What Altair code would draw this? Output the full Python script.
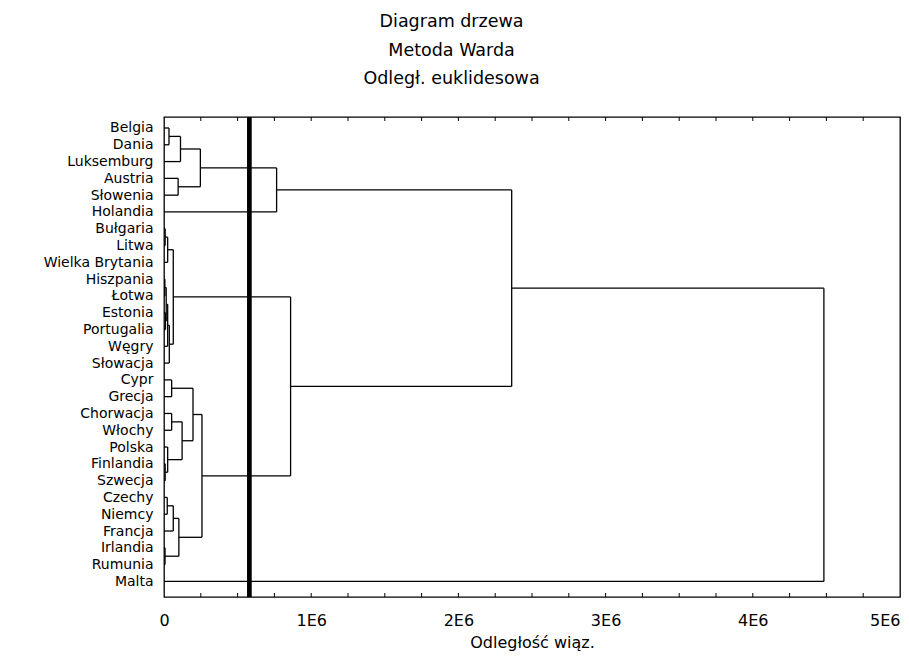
import altair as alt
import pandas as pd

# Leaves (top to bottom)
countries = [
    "Belgia", "Dania", "Luksemburg", "Austria", "Słowenia", "Holandia",
    "Bułgaria", "Litwa", "Wielka Brytania", "Hiszpania", "Łotwa", "Estonia",
    "Portugalia", "Węgry", "Słowacja", "Cypr", "Grecja", "Chorwacja",
    "Włochy", "Polska", "Finlandia", "Szwecja", "Czechy", "Niemcy",
    "Francja", "Irlandia", "Rumunia", "Malta",
]

# Merges: left child, right child, linkage distance ("#k" = result of merge k)
merge_left = [
    "Belgia", "#0", "Austria", "#1", "#3",
    "Bułgaria", "#5", "Hiszpania", "Estonia", "#7", "#9", "#10", "#6",
    "Cypr", "Chorwacja", "Finlandia", "Polska", "#14", "#13",
    "Czechy", "#19", "Irlandia", "#20", "#18",
    "#12", "#4", "#25",
]
merge_right = [
    "Dania", "Luksemburg", "Słowenia", "#2", "Holandia",
    "Litwa", "Wielka Brytania", "Łotwa", "Portugalia", "#8", "Węgry", "Słowacja", "#11",
    "Grecja", "Włochy", "Szwecja", "#15", "#16", "#17",
    "Niemcy", "Francja", "Rumunia", "#21", "#22",
    "#23", "#24", "Malta",
]
merge_height = [
    34000, 112000, 96000, 247000, 765000,
    8000, 25000, 6000, 10000, 15000, 25000, 36000, 63000,
    52000, 52000, 8000, 25000, 123000, 197000,
    22000, 63000, 7000, 101000, 258000,
    860000, 2362000, 4483000,
]

cut_distance = [580000]
x_tick_values = [0, 1000000, 2000000, 3000000, 4000000, 5000000]
minor_ticks = [i * 250000 for i in range(1, 20)]

# Build dendrogram segments from the merge table
pos = {c: i for i, c in enumerate(countries)}
hgt = {c: 0 for c in countries}
rows = []
for k, (a, b, h) in enumerate(zip(merge_left, merge_right, merge_height)):
    ya, yb = pos[a], pos[b]
    rows.append({"x": h, "x2": h, "y": ya, "y2": yb})
    rows.append({"x": hgt[a], "x2": h, "y": ya, "y2": ya})
    rows.append({"x": hgt[b], "x2": h, "y": yb, "y2": yb})
    pos["#%d" % k] = (ya + yb) / 2
    hgt["#%d" % k] = h
seg = pd.DataFrame(rows)

FONT = "DejaVu Sans"
W, H = 736, 480

x_scale = alt.Scale(domain=[0, 5000000], nice=False, zero=True)
y_scale = alt.Scale(domain=[-0.655, 27.93], reverse=True, nice=False, zero=False)

x_axis = alt.Axis(
    values=x_tick_values,
    labelExpr="datum.value == 0 ? '0' : format(datum.value / 1000000, 'd') + 'E6'",
    ticks=False, tickSize=0, domain=False, grid=False,
    labelFlush=False,
    labelAlign={"condition": {"test": "datum.value == 5000000", "value": "right"}, "value": "center"},
    labelPadding=15, labelFont=FONT, labelFontSize=16, labelColor="black",
    title="Odległość wiąz.", titlePadding=6, titleFont=FONT, titleFontSize=16,
    titleFontWeight="normal", titleColor="black",
)

label_expr = "[" + ",".join("'%s'" % c for c in countries) + "][datum.value]"
y_axis = alt.Axis(
    values=list(range(len(countries))),
    labelExpr=label_expr,
    ticks=False, tickSize=0, domain=False, grid=False,
    labelOverlap=False, labelPadding=11,
    labelFont=FONT, labelFontSize=14, labelColor="black",
    title=None,
)

tree = alt.Chart(seg).mark_rule(color="black", strokeWidth=1.3).encode(
    x=alt.X("x:Q", scale=x_scale, axis=x_axis),
    x2="x2:Q",
    y=alt.Y("y:Q", scale=y_scale, axis=y_axis),
    y2="y2:Q",
)

cut = alt.Chart(pd.DataFrame({"x": cut_distance})).mark_rule(
    color="black", strokeWidth=4.7
).encode(x=alt.X("x:Q", scale=x_scale, axis=x_axis))

ticks_df = pd.DataFrame({"x": minor_ticks})
bottom_ticks = alt.Chart(ticks_df).mark_rule(color="black", strokeWidth=1).encode(
    x=alt.X("x:Q", scale=x_scale, axis=x_axis),
    y=alt.value(H - 4), y2=alt.value(H),
)
top_ticks = alt.Chart(ticks_df).mark_rule(color="black", strokeWidth=1).encode(
    x=alt.X("x:Q", scale=x_scale, axis=x_axis),
    y=alt.value(0), y2=alt.value(4),
)

chart = alt.layer(tree, cut, bottom_ticks, top_ticks).properties(
    width=W, height=H,
    background="white",
    title=alt.TitleParams(
        text=["Diagram drzewa", "Metoda Warda", "Odległ. euklidesowa"],
        frame="bounds", anchor="middle", font=FONT, fontSize=17.5,
        fontWeight="normal", color="black", lineHeight=28.5, offset=27, dx=-20,
    ),
    autosize=alt.AutoSizeParams(type="none"),
    padding={"left": 156, "top": 109, "right": 1, "bottom": 56},
).configure_view(stroke="black", strokeWidth=1.3)

chart.save("out.html", embed_options={"renderer": "svg", "actions": False})
